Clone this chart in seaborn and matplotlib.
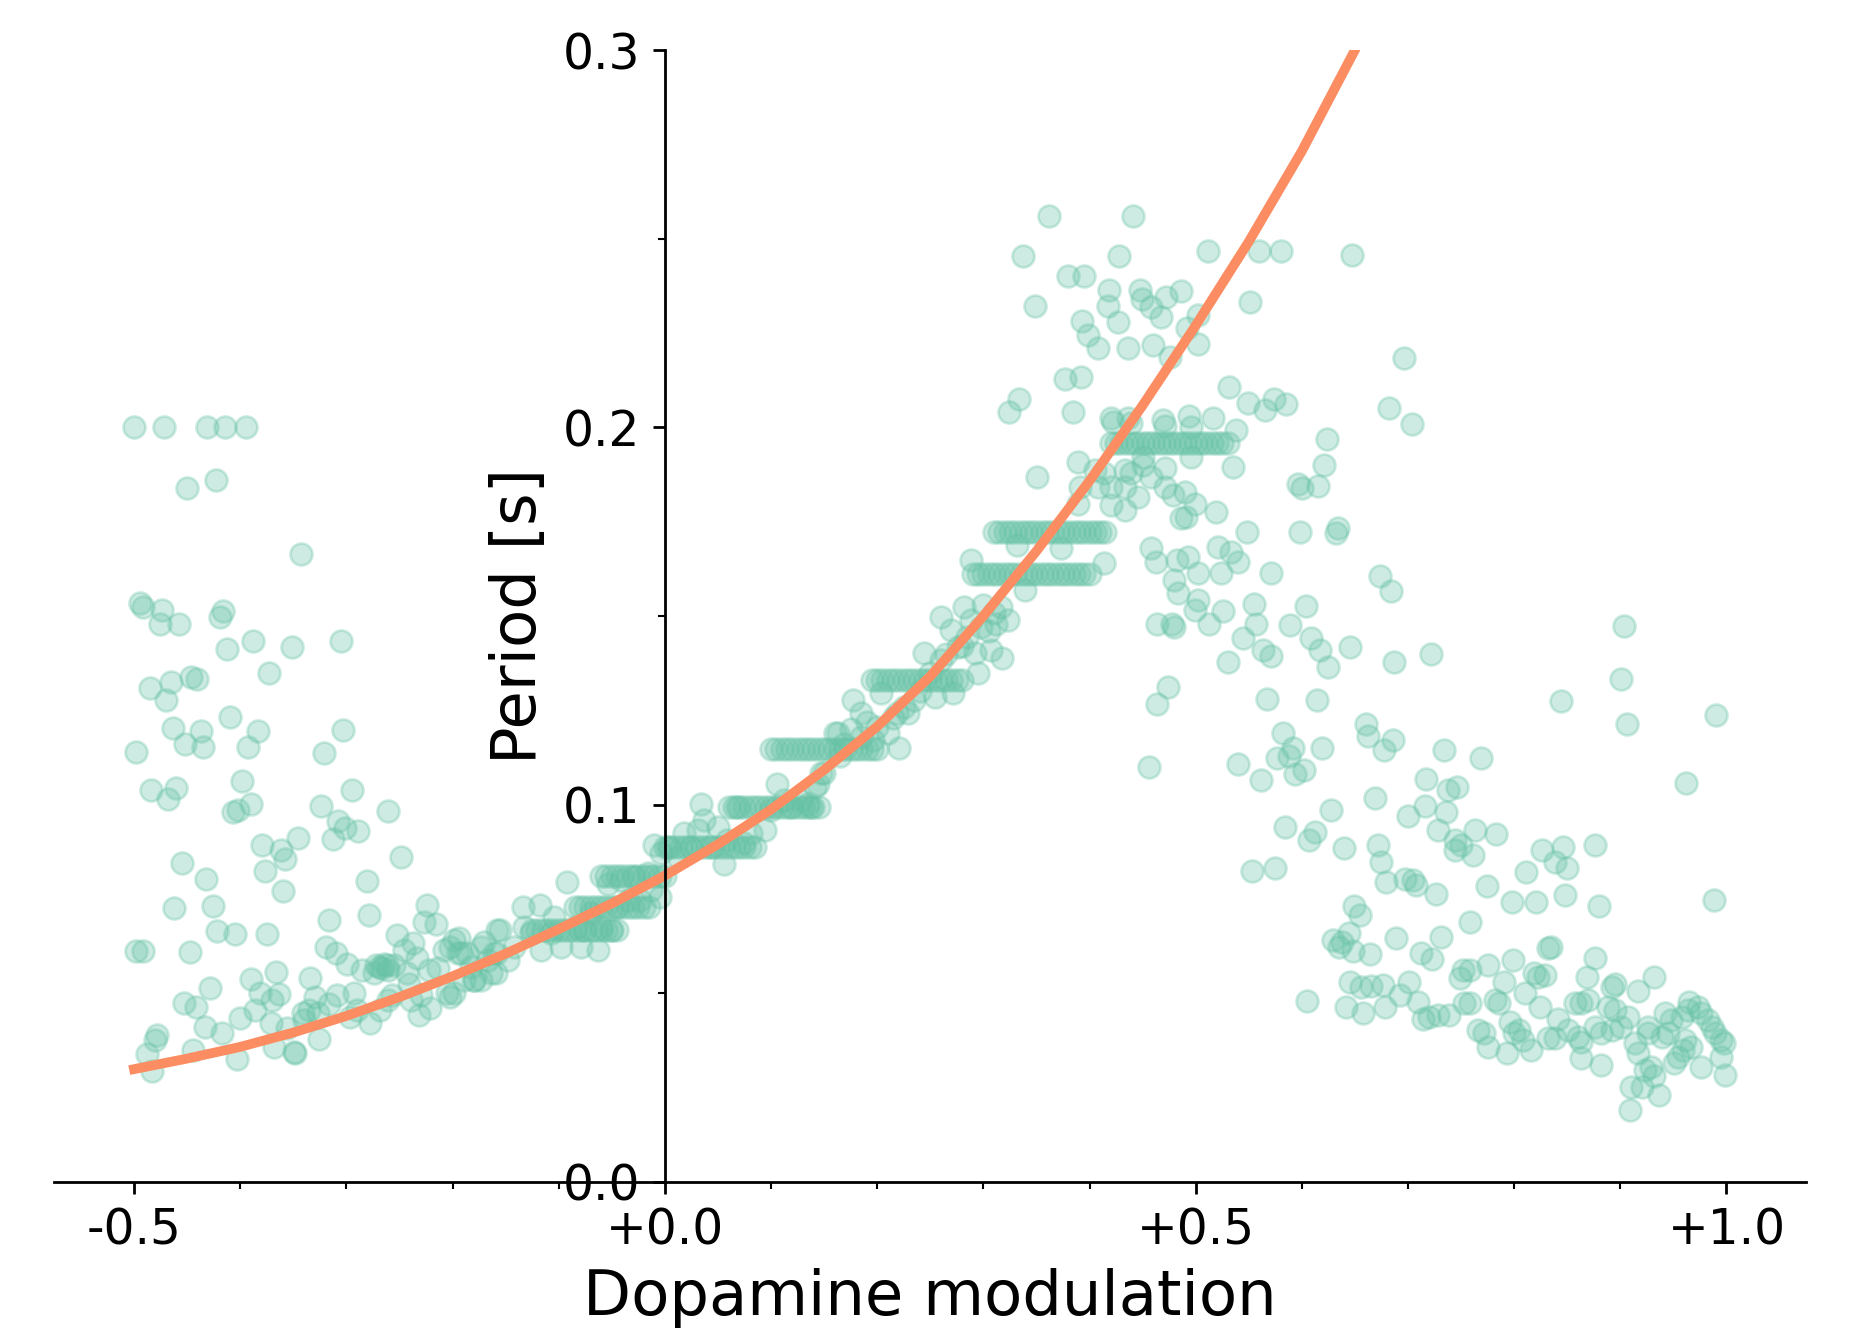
import matplotlib
matplotlib.use("Agg")
import matplotlib.pyplot as plt
import numpy as np
import pandas as pd
import seaborn as sns
from matplotlib.ticker import MultipleLocator, FuncFormatter, FormatStrFormatter

GREEN = "#66c2a5"
ORANGE = "#fc8d62"

# ---------------- data ----------------
# fitted curve (Dopamine modulation -> Period)
curve_x = [-0.50, -0.45, -0.40, -0.35, -0.30, -0.25, -0.20, -0.15, -0.10, -0.05,
           0.00, 0.05, 0.10, 0.15, 0.20, 0.25, 0.30, 0.35, 0.40, 0.45,
           0.50, 0.55, 0.60, 0.65]
curve_y = [0.0299, 0.0327, 0.0358, 0.0396, 0.0440, 0.0490, 0.0545, 0.0605, 0.0670, 0.0738,
           0.0812, 0.0895, 0.0987, 0.1092, 0.1207, 0.1340, 0.1500, 0.1672, 0.1858, 0.2058,
           0.2270, 0.2492, 0.2732, 0.3000]

# scattered points, low dopamine side (upper part)
left_upper = [
    (-0.500, 0.2000), (-0.472, 0.2000), (-0.431, 0.2000), (-0.414, 0.2000), (-0.395, 0.2000),
    (-0.450, 0.1838), (-0.423, 0.1861), (-0.343, 0.1665),
    (-0.494, 0.1535), (-0.492, 0.1525), (-0.474, 0.1517), (-0.476, 0.1480), (-0.458, 0.1480),
    (-0.419, 0.1498), (-0.416, 0.1514), (-0.388, 0.1434), (-0.412, 0.1413), (-0.351, 0.1419),
    (-0.305, 0.1434), (-0.373, 0.1350), (-0.485, 0.1310), (-0.465, 0.1325), (-0.470, 0.1277),
    (-0.446, 0.1338), (-0.441, 0.1334), (-0.410, 0.1233), (-0.463, 0.1203), (-0.452, 0.1161),
    (-0.437, 0.1194), (-0.435, 0.1152), (-0.383, 0.1194), (-0.393, 0.1152), (-0.303, 0.1198),
    (-0.498, 0.1139), (-0.321, 0.1137), (-0.484, 0.1039), (-0.460, 0.1044), (-0.468, 0.1015),
    (-0.398, 0.1064), (-0.407, 0.0981), (-0.402, 0.0987), (-0.390, 0.1003), (-0.324, 0.0996),
    (-0.295, 0.1039), (-0.261, 0.0983), (-0.308, 0.0957), (-0.313, 0.0908), (-0.301, 0.0938),
    (-0.289, 0.0929), (-0.379, 0.0893), (-0.346, 0.0912), (-0.362, 0.0881), (-0.358, 0.0856),
    (-0.455, 0.0845), (-0.377, 0.0825), (-0.249, 0.0862), (-0.432, 0.0802), (-0.360, 0.0770),
    (-0.281, 0.0798), (-0.462, 0.0725), (-0.426, 0.0732), (-0.316, 0.0693), (-0.279, 0.0707),
    (-0.422, 0.0665), (-0.405, 0.0656), (-0.375, 0.0656), (-0.498, 0.0612), (-0.492, 0.0612),
    (-0.447, 0.0610), (-0.224, 0.0735),
]

# scattered points, low dopamine side (lower part)
left_lower = [
    (-0.366, 0.0556), (-0.390, 0.0538), (-0.334, 0.0541), (-0.428, 0.0515), (-0.453, 0.0475),
    (-0.442, 0.0465), (-0.381, 0.0500), (-0.370, 0.0482), (-0.363, 0.0497), (-0.386, 0.0456),
    (-0.400, 0.0434), (-0.371, 0.0420), (-0.433, 0.0410), (-0.417, 0.0394), (-0.478, 0.0390),
    (-0.480, 0.0376), (-0.488, 0.0339), (-0.444, 0.0350), (-0.483, 0.0295), (-0.403, 0.0325),
    (-0.368, 0.0357), (-0.349, 0.0345), (-0.348, 0.0343), (-0.356, 0.0407), (-0.341, 0.0447),
    (-0.335, 0.0457), (-0.330, 0.0491), (-0.340, 0.0429), (-0.326, 0.0380), (-0.327, 0.0447),
    (-0.316, 0.0472), (-0.309, 0.0495), (-0.293, 0.0500), (-0.297, 0.0436), (-0.290, 0.0456),
    (-0.278, 0.0420),
]

# dense band along the curve
band_points = [
    (-0.319, 0.0624), (-0.310, 0.0607), (-0.299, 0.0577), (-0.285, 0.0562), (-0.274, 0.0553),
    (-0.269, 0.0571), (-0.265, 0.0579), (-0.261, 0.0562), (-0.255, 0.0575), (-0.252, 0.0654),
    (-0.272, 0.0575), (-0.266, 0.0568), (-0.262, 0.0575),
    (-0.246, 0.0614), (-0.237, 0.0633), (-0.233, 0.0593), (-0.243, 0.0553), (-0.241, 0.0526),
    (-0.257, 0.0496), (-0.261, 0.0482), (-0.268, 0.0456), (-0.239, 0.0482), (-0.232, 0.0443),
    (-0.221, 0.0460), (-0.230, 0.0495), (-0.227, 0.0690), (-0.216, 0.0683), (-0.222, 0.0562),
    (-0.214, 0.0566), (-0.208, 0.0614), (-0.202, 0.0624), (-0.194, 0.0646), (-0.205, 0.0500),
    (-0.202, 0.0491), (-0.195, 0.0606), (-0.186, 0.0606), (-0.189, 0.0535), (-0.180, 0.0535),
    (-0.173, 0.0535), (-0.170, 0.0637), (-0.167, 0.0588), (-0.158, 0.0606), (-0.158, 0.0668),
    (-0.159, 0.0553),
    (-0.199, 0.0641), (-0.192, 0.0606), (-0.199, 0.0500), (-0.183, 0.0571), (-0.173, 0.0624),
    (-0.180, 0.0535), (-0.164, 0.0553), (-0.161, 0.0606), (-0.155, 0.0668), (-0.148, 0.0588),
    (-0.142, 0.0624), (-0.134, 0.0730), (-0.133, 0.0677), (-0.126, 0.0659), (-0.118, 0.0734),
    (-0.117, 0.0615), (-0.107, 0.0659), (-0.104, 0.0703), (-0.098, 0.0624), (-0.092, 0.0796),
    (-0.085, 0.0730), (-0.084, 0.0677), (-0.079, 0.0624), (-0.076, 0.0668), (-0.070, 0.0712),
    (-0.063, 0.0615), (-0.060, 0.0677), (-0.054, 0.0791), (-0.051, 0.0668), (-0.045, 0.0730),
    (-0.041, 0.0800), (-0.035, 0.0747), (-0.029, 0.0809), (-0.023, 0.0747), (-0.016, 0.0818),
    (-0.013, 0.0774), (-0.010, 0.0893), (-0.005, 0.0756), (-0.004, 0.0871),
    (0.018, 0.0924), (0.0025, 0.0888), (0.012, 0.0862), (0.025, 0.0888), (0.034, 0.1003),
    (0.037, 0.0959), (0.031, 0.0933), (0.043, 0.0888), (0.050, 0.0941), (0.056, 0.0844),
    (0.059, 0.0906), (0.068, 0.0995), (0.075, 0.0898), (0.081, 0.0924), (0.094, 0.0933),
    (0.100, 0.0986), (0.106, 0.1056), (0.112, 0.1012), (0.119, 0.0995), (0.128, 0.1012),
    (0.138, 0.0995), (0.144, 0.1056), (0.150, 0.1083), (0.163, 0.1189), (0.169, 0.1162),
    (0.135, 0.1003), (0.141, 0.1047), (0.147, 0.1083), (0.160, 0.1189), (0.177, 0.1277),
    (0.185, 0.1242), (0.196, 0.1171), (0.200, 0.1207), (0.204, 0.1295), (0.210, 0.1189),
    (0.221, 0.1149), (0.219, 0.1242), (0.229, 0.1242), (0.235, 0.1277), (0.244, 0.1401),
    (0.254, 0.1286), (0.260, 0.1498), (0.260, 0.1383), (0.271, 0.1295), (0.270, 0.1462),
    (0.276, 0.1418), (0.282, 0.1525), (0.285, 0.1445), (0.292, 0.1401), (0.295, 0.1348),
    (0.298, 0.1471), (0.307, 0.1410), (0.318, 0.1388), (0.310, 0.1507), (0.323, 0.1489),
    (0.317, 0.1525), (0.339, 0.1569),
    (0.288, 0.1490), (0.300, 0.1530), (0.305, 0.1460), (0.312, 0.1480), (0.280, 0.1420),
    (0.265, 0.1400), (0.250, 0.1350), (0.240, 0.1300), (0.225, 0.1260), (0.215, 0.1230),
    (0.165, 0.1130), (0.175, 0.1200), (0.185, 0.1180), (0.190, 0.1220),
]

# horizontal runs of points (quantised periods)
plateau_levels = [0.0668, 0.0730, 0.0810, 0.0888, 0.0995, 0.1147, 0.1330, 0.1610, 0.1723, 0.1959]
plateau_x = [
    [-0.125, -0.12, -0.115, -0.11, -0.105, -0.10, -0.095, -0.09, -0.085, -0.08, -0.075,
     -0.07, -0.065, -0.06, -0.055, -0.05, -0.045],
    [-0.08, -0.075, -0.07, -0.065, -0.06, -0.055, -0.05, -0.045, -0.04, -0.035, -0.03,
     -0.025, -0.02, -0.015],
    [-0.06, -0.055, -0.05, -0.045, -0.04, -0.035, -0.03, -0.025, -0.02, -0.015, -0.01,
     -0.005, 0.0],
    [0.0, 0.005, 0.01, 0.015, 0.02, 0.025, 0.03, 0.035, 0.04, 0.045, 0.05, 0.055, 0.06,
     0.065, 0.07, 0.075, 0.08, 0.085],
    [0.06, 0.065, 0.07, 0.075, 0.08, 0.085, 0.09, 0.095, 0.10, 0.105, 0.11, 0.115, 0.12,
     0.125, 0.13, 0.135, 0.14, 0.145],
    [0.10, 0.105, 0.11, 0.115, 0.12, 0.125, 0.13, 0.135, 0.14, 0.145, 0.15, 0.155, 0.16,
     0.165, 0.17, 0.175, 0.18, 0.185, 0.19, 0.195, 0.20],
    [0.195, 0.20, 0.205, 0.21, 0.215, 0.22, 0.225, 0.23, 0.235, 0.24, 0.245, 0.25, 0.255,
     0.26, 0.265, 0.27, 0.275, 0.28],
    [0.29, 0.295, 0.30, 0.305, 0.31, 0.315, 0.32, 0.325, 0.33, 0.335, 0.34, 0.345, 0.35,
     0.355, 0.36, 0.365, 0.37, 0.375, 0.38, 0.385, 0.39, 0.395, 0.40],
    [0.31, 0.315, 0.32, 0.325, 0.33, 0.335, 0.34, 0.345, 0.35, 0.355, 0.36, 0.365, 0.37,
     0.375, 0.38, 0.385, 0.39, 0.395, 0.40, 0.405, 0.41, 0.415],
    [0.42, 0.425, 0.43, 0.435, 0.44, 0.445, 0.45, 0.455, 0.46, 0.465, 0.47, 0.475, 0.48,
     0.485, 0.49, 0.495, 0.50, 0.505, 0.51, 0.515, 0.52, 0.525, 0.53],
]

# scattered points around the peak
peak_points = [
    (0.456, 0.1100), (0.464, 0.1268), (0.474, 0.1311), (0.464, 0.1480), (0.478, 0.1480),
    (0.480, 0.1471), (0.483, 0.1560), (0.480, 0.1595), (0.499, 0.1516), (0.502, 0.1542),
    (0.362, 0.2560), (0.441, 0.2560), (0.337, 0.2454), (0.428, 0.2454), (0.512, 0.2467),
    (0.560, 0.2467), (0.580, 0.2467), (0.647, 0.2456), (0.380, 0.2401), (0.395, 0.2401),
    (0.418, 0.2364), (0.448, 0.2364), (0.486, 0.2362), (0.472, 0.2346), (0.449, 0.2341),
    (0.417, 0.2321), (0.458, 0.2319), (0.349, 0.2321), (0.551, 0.2333), (0.467, 0.2293),
    (0.393, 0.2282), (0.427, 0.2280), (0.502, 0.2297), (0.492, 0.2262), (0.399, 0.2244),
    (0.502, 0.2222), (0.408, 0.2209), (0.436, 0.2209), (0.460, 0.2218), (0.476, 0.2187),
    (0.377, 0.2127), (0.392, 0.2134), (0.334, 0.2076), (0.324, 0.2041), (0.384, 0.2041),
    (0.531, 0.2106), (0.549, 0.2065), (0.565, 0.2045), (0.574, 0.2076), (0.585, 0.2063),
    (0.420, 0.2025), (0.422, 0.2015), (0.436, 0.2025), (0.439, 0.2012), (0.469, 0.2019),
    (0.471, 0.2003), (0.494, 0.2030), (0.496, 0.2001), (0.516, 0.2024), (0.538, 0.1993),
    (0.624, 0.1968), (0.450, 0.1922), (0.389, 0.1909), (0.351, 0.1869), (0.450, 0.1900),
    (0.471, 0.1891), (0.458, 0.1869), (0.496, 0.1922), (0.535, 0.1895), (0.621, 0.1899),
    (0.405, 0.1887), (0.414, 0.1878), (0.433, 0.1887), (0.439, 0.1878), (0.391, 0.1842),
    (0.408, 0.1842), (0.420, 0.1842), (0.433, 0.1842), (0.471, 0.1842), (0.479, 0.1820),
    (0.490, 0.1829), (0.446, 0.1816), (0.499, 0.1798), (0.389, 0.1798), (0.420, 0.1794),
    (0.433, 0.1781), (0.486, 0.1759), (0.491, 0.1763), (0.519, 0.1776), (0.596, 0.1851),
    (0.600, 0.1838), (0.615, 0.1844), (0.598, 0.1723), (0.548, 0.1723), (0.634, 0.1732),
    (0.632, 0.1719), (0.458, 0.1679), (0.463, 0.1643), (0.482, 0.1648), (0.493, 0.1657),
    (0.521, 0.1683), (0.533, 0.1670), (0.540, 0.1643), (0.571, 0.1613), (0.524, 0.1613),
    (0.502, 0.1613), (0.288, 0.1648), (0.414, 0.1640), (0.332, 0.1688), (0.373, 0.1679),
    (0.696, 0.2185), (0.682, 0.2050), (0.704, 0.2010),
]

# scattered points, high dopamine side (decline)
right_upper = [
    (0.674, 0.1606), (0.684, 0.1567), (0.526, 0.1514), (0.513, 0.1480), (0.555, 0.1532),
    (0.557, 0.1480), (0.604, 0.1526), (0.589, 0.1476), (0.545, 0.1441), (0.563, 0.1410),
    (0.571, 0.1394), (0.609, 0.1441), (0.617, 0.1410), (0.625, 0.1366), (0.645, 0.1417),
    (0.687, 0.1377), (0.722, 0.1398), (0.530, 0.1377), (0.567, 0.1279), (0.614, 0.1277),
    (0.844, 0.1275), (0.582, 0.1189), (0.660, 0.1213), (0.662, 0.1182), (0.686, 0.1171),
    (0.677, 0.1145), (0.619, 0.1151), (0.734, 0.1145), (0.769, 0.1123), (0.592, 0.1149),
    (0.577, 0.1123), (0.588, 0.1129), (0.540, 0.1108), (0.602, 0.1093), (0.594, 0.1081),
    (0.562, 0.1065), (0.717, 0.1067), (0.738, 0.1039), (0.746, 0.1046), (0.669, 0.1018),
    (0.716, 0.0996), (0.736, 0.0981), (0.627, 0.0987), (0.700, 0.0970), (0.584, 0.0942),
    (0.612, 0.0928), (0.607, 0.0906), (0.728, 0.0933), (0.763, 0.0933), (0.783, 0.0922),
    (0.744, 0.0906), (0.750, 0.0893), (0.672, 0.0893), (0.640, 0.0884), (0.826, 0.0880),
    (0.846, 0.0888), (0.876, 0.0893),
    (0.903, 0.1473), (0.901, 0.1334), (0.906, 0.1215), (0.990, 0.1237), (0.962, 0.1057),
]

right_lower = [
    (0.553, 0.0823), (0.575, 0.0833), (0.649, 0.0732), (0.655, 0.0707), (0.629, 0.0640),
    (0.635, 0.0624), (0.638, 0.0636), (0.644, 0.0660), (0.648, 0.0612), (0.664, 0.0604),
    (0.645, 0.0531), (0.656, 0.0518), (0.665, 0.0520), (0.605, 0.0480), (0.642, 0.0464),
    (0.658, 0.0448),
    (0.675, 0.0849), (0.744, 0.0880), (0.761, 0.0867), (0.838, 0.0849), (0.850, 0.0831),
    (0.811, 0.0822), (0.774, 0.0784), (0.798, 0.0743), (0.821, 0.0743), (0.848, 0.0760),
    (0.880, 0.0731), (0.988, 0.0746), (0.679, 0.0796), (0.697, 0.0802), (0.705, 0.0800),
    (0.708, 0.0787), (0.726, 0.0762), (0.758, 0.0690), (0.689, 0.0646), (0.731, 0.0648),
    (0.712, 0.0608), (0.723, 0.0591), (0.676, 0.0522), (0.678, 0.0465), (0.692, 0.0495),
    (0.701, 0.0531), (0.709, 0.0478), (0.714, 0.0433), (0.720, 0.0438), (0.728, 0.0442),
    (0.739, 0.0442), (0.749, 0.0540), (0.752, 0.0562), (0.758, 0.0562), (0.753, 0.0474),
    (0.758, 0.0474), (0.775, 0.0575), (0.790, 0.0531), (0.799, 0.0588), (0.766, 0.0403),
    (0.772, 0.0394), (0.775, 0.0359), (0.782, 0.0482), (0.786, 0.0474), (0.793, 0.0341),
    (0.796, 0.0425), (0.800, 0.0394), (0.805, 0.0403), (0.808, 0.0376), (0.816, 0.0350),
    (0.810, 0.0500), (0.819, 0.0553), (0.822, 0.0544), (0.829, 0.0549), (0.832, 0.0619),
    (0.835, 0.0624), (0.824, 0.0465), (0.832, 0.0381), (0.838, 0.0381), (0.841, 0.0433),
    (0.851, 0.0403), (0.860, 0.0385), (0.863, 0.0372), (0.857, 0.0474), (0.863, 0.0474),
    (0.870, 0.0482), (0.863, 0.0328), (0.869, 0.0544), (0.876, 0.0593), (0.876, 0.0412),
    (0.882, 0.0394), (0.892, 0.0403), (0.901, 0.0412), (0.882, 0.0310), (0.888, 0.0465),
    (0.895, 0.0456), (0.892, 0.0518), (0.895, 0.0526), (0.907, 0.0438), (0.914, 0.0367),
    (0.917, 0.0341), (0.917, 0.0505), (0.926, 0.0412), (0.926, 0.0394), (0.923, 0.0297),
    (0.929, 0.0306), (0.932, 0.0280), (0.910, 0.0253), (0.920, 0.0253), (0.909, 0.0191),
    (0.936, 0.0231), (0.932, 0.0544), (0.939, 0.0385), (0.945, 0.0394), (0.942, 0.0447),
    (0.948, 0.0429), (0.951, 0.0315), (0.954, 0.0332), (0.959, 0.0350), (0.961, 0.0376),
    (0.967, 0.0359), (0.958, 0.0438), (0.964, 0.0456), (0.965, 0.0478), (0.973, 0.0465),
    (0.976, 0.0447), (0.976, 0.0306), (0.983, 0.0429), (0.986, 0.0412), (0.989, 0.0394),
    (0.995, 0.0376), (0.995, 0.0332), (0.998, 0.0368), (0.999, 0.0284),
]

x_ticks = [-0.5, 0.0, 0.5, 1.0]
y_ticks = [0.0, 0.1, 0.2, 0.3]

# ---------------- assemble ----------------
pts = left_upper + left_lower + band_points + peak_points + right_upper + right_lower
for lvl, xs in zip(plateau_levels, plateau_x):
    pts += [(xv, lvl) for xv in xs]
df = pd.DataFrame(pts, columns=["x", "y"])

fig = plt.figure(figsize=(7.428, 5.32), dpi=250)
ax = fig.add_axes([0.0293, 0.1113, 0.9433, 0.8511])

sns.scatterplot(data=df, x="x", y="y", color=GREEN, alpha=0.32, s=40,
                edgecolor=GREEN, linewidth=0.8, ax=ax, zorder=1, legend=False)
sns.lineplot(x=curve_x, y=curve_y, color=ORANGE, linewidth=2.8, ax=ax, zorder=2)

ax.set_xlim(-0.575, 1.075)
ax.set_ylim(0, 0.3)
ax.spines["left"].set_position(("data", 0))
ax.spines["bottom"].set_position(("data", 0))
ax.spines["top"].set_visible(False)
ax.spines["right"].set_visible(False)

ax.set_xticks(x_ticks)
ax.set_yticks(y_ticks)
ax.xaxis.set_minor_locator(MultipleLocator(0.1))
ax.yaxis.set_minor_locator(MultipleLocator(0.05))
ax.xaxis.set_major_formatter(FuncFormatter(lambda v, p: f"{v:+.1f}" if v != 0 else "+0.0"))
ax.yaxis.set_major_formatter(FormatStrFormatter("%.1f"))
ax.tick_params(axis="both", which="major", labelsize=14)

ax.set_xlabel("Dopamine modulation", fontsize=18)
ax.set_ylabel("Period [s]", fontsize=18)

fig.savefig("out.png", dpi=250)
